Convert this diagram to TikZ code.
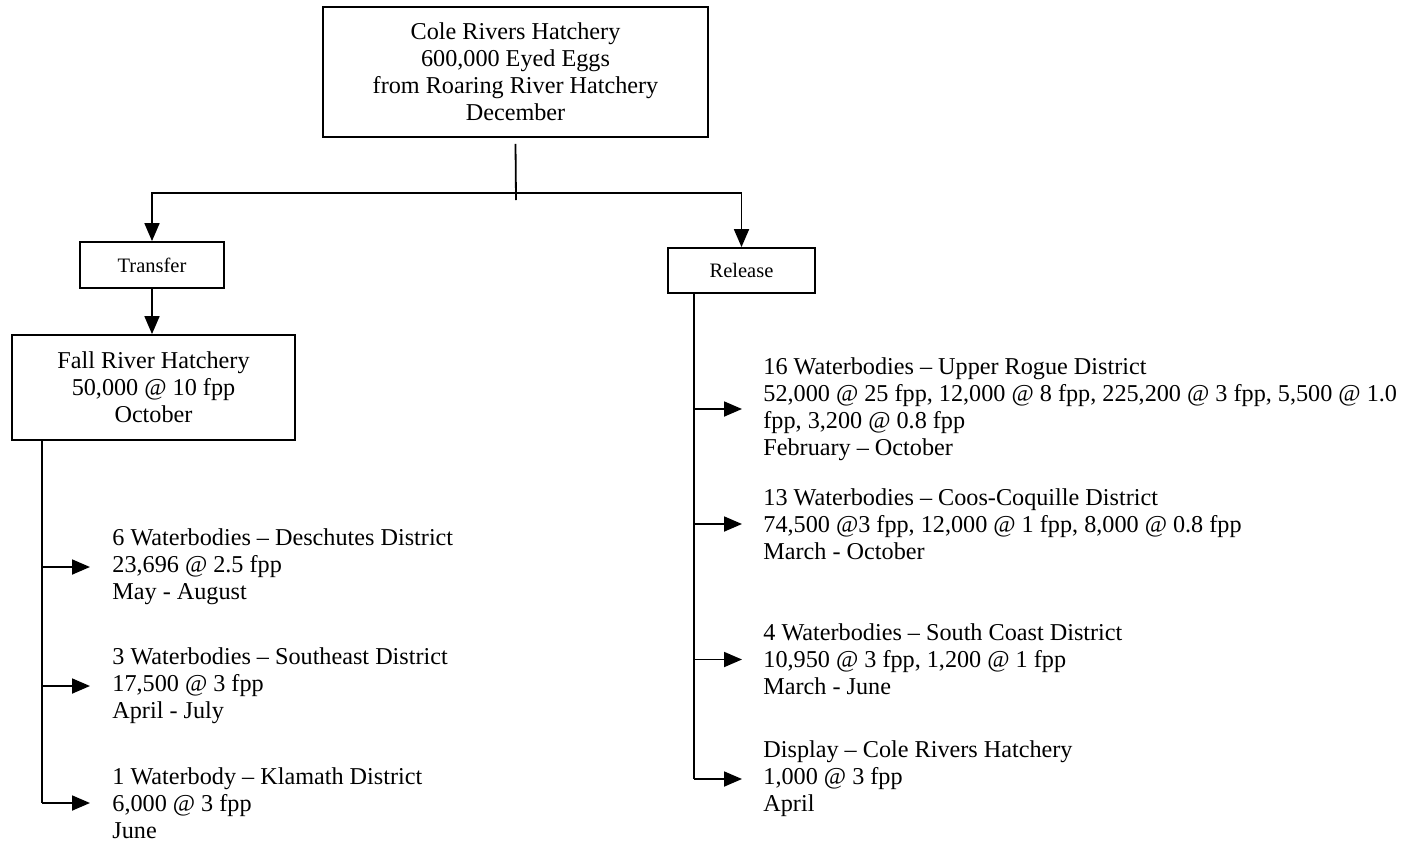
\documentclass[tikz,border=0pt]{standalone}
\usepackage{fontspec}
\setmainfont{Liberation Serif}
\usetikzlibrary{arrows.meta}

\newcommand{\bodyfont}{\fontsize{12.1pt}{13.5pt}\selectfont}
\newcommand{\tagfont}{\fontsize{10.25pt}{12pt}\selectfont}

\tikzset{
    box/.style={draw, line width=0.9pt, align=center, inner sep=0pt},
    lbl/.style={align=left, anchor=west, inner sep=0pt, font=\bodyfont},
    arr/.style={-{Triangle[length=9pt,width=7.5pt]}, line width=0.9pt},
    stem/.style={line width=0.9pt}
}

\begin{document}
\begin{tikzpicture}[x=0.5pt,y=-0.5pt]
    \useasboundingbox (0,0) rectangle (1412,841);

    \node[box, font=\bodyfont, minimum width=192.5pt, minimum height=65pt] (cole) at (515.5,72)
        {Cole Rivers Hatchery\\600,000 Eyed Eggs\\from Roaring River Hatchery\\December};
    \node[box, font=\tagfont, minimum width=72pt, minimum height=23pt] (transfer) at (152,265) {Transfer};
    \node[box, font=\tagfont, minimum width=73.5pt, minimum height=22.5pt] (release) at (741.5,270.5) {Release};
    \node[box, font=\bodyfont, minimum width=141.5pt, minimum height=52.5pt] (fall) at (153.5,387.5)
        {Fall River Hatchery\\50,000 @ 10 fpp\\October};

    \coordinate (split) at (516,193);
    \draw[stem] ([yshift=-3pt]cole.south) -- (516,200);
    \draw[arr] (split) -| (transfer.north);
    \draw[arr] (split) -| (release.north);
    \draw[arr] (transfer.south) -- (transfer.south |- fall.north);

    \node[lbl] (desch) at (112,567) {6 Waterbodies – Deschutes District\\23,696 @ 2.5 fpp\\May - August};
    \node[lbl] (southeast) at (112,686) {3 Waterbodies – Southeast District\\17,500 @ 3 fpp\\April - July};
    \node[lbl] (klamath) at (112,803) {1 Waterbody – Klamath District\\6,000 @ 3 fpp\\June};

    \coordinate (lstem) at (42,803);
    \draw[stem] (lstem |- fall.south) -- (lstem);
    \draw[arr] (lstem |- desch.west) -- ([xshift=-11pt]desch.west);
    \draw[arr] (lstem |- southeast.west) -- ([xshift=-11pt]southeast.west);
    \draw[arr] (lstem) -- ([xshift=-11pt]klamath.west);

    \node[lbl] (rogue) at (763,409) {16 Waterbodies – Upper Rogue District\\52,000 @ 25 fpp, 12,000 @ 8 fpp, 225,200 @ 3 fpp, 5,500 @ 1.0\\fpp, 3,200 @ 0.8 fpp\\February – October};
    \node[lbl] (coos) at (763,524) {13 Waterbodies – Coos-Coquille District\\74,500 @3 fpp, 12,000 @ 1 fpp, 8,000 @ 0.8 fpp\\March - October};
    \node[lbl] (coast) at (763,659.5) {4 Waterbodies – South Coast District\\10,950 @ 3 fpp, 1,200 @ 1 fpp\\March - June};
    \node[lbl] (display) at (763,779) {Display – Cole Rivers Hatchery\\1,000 @ 3 fpp\\April};

    \coordinate (rstem) at (694,779);
    \draw[stem] (rstem |- release.south) -- (rstem);
    \draw[arr] (rstem |- rogue.west) -- ([xshift=-10.5pt]rogue.west);
    \draw[arr] (rstem |- coos.west) -- ([xshift=-10.5pt]coos.west);
    \draw[arr] (rstem |- coast.west) -- ([xshift=-10.5pt]coast.west);
    \draw[arr] (rstem) -- ([xshift=-10.5pt]display.west);
\end{tikzpicture}
\end{document}
